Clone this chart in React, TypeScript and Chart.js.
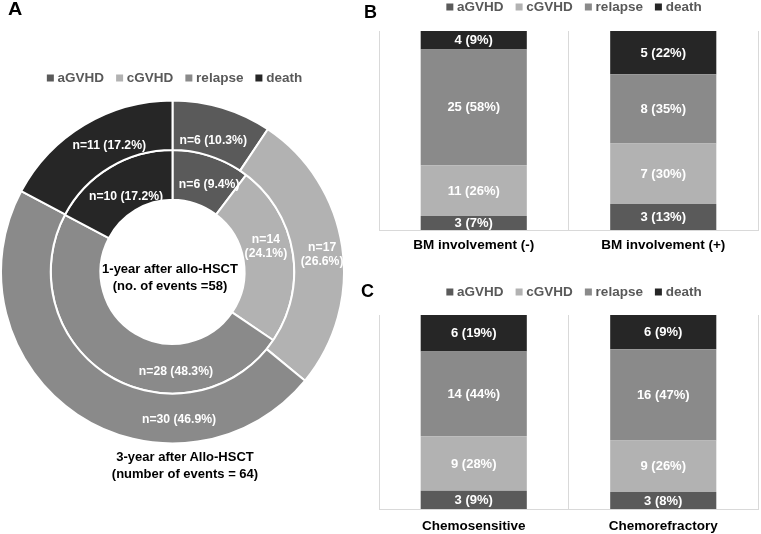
import React, { useEffect, useRef } from 'react';
import { Chart, registerables } from 'chart.js';

Chart.register(...registerables);

// ---------- shared ----------
const eventTypes = ['aGVHD', 'cGVHD', 'relapse', 'death'];
const eventColors = ['#5a5a5a', '#b2b2b2', '#8a8a8a', '#262626'];

// ---------- Panel A (doughnut) ----------
const threeYearCounts = [6, 17, 30, 11];
const threeYearPctLabels = ['10.3%', '26.6%', '46.9%', '17.2%'];
const oneYearCounts = [6, 14, 28, 10];
const oneYearPctLabels = ['9.4%', '24.1%', '48.3%', '17.2%'];

// ---------- Panel B ----------
const bmCategories = ['BM involvement (-)', 'BM involvement (+)'];
const bmAGVHD = [3, 3];
const bmCGVHD = [11, 7];
const bmRelapse = [25, 8];
const bmDeath = [4, 5];
const bmAGVHDPct = [7, 13];
const bmCGVHDPct = [26, 30];
const bmRelapsePct = [58, 35];
const bmDeathPct = [9, 22];

// ---------- Panel C ----------
const chemoCategories = ['Chemosensitive', 'Chemorefractory'];
const chemoAGVHD = [3, 3];
const chemoCGVHD = [9, 9];
const chemoRelapse = [14, 16];
const chemoDeath = [6, 6];
const chemoAGVHDPct = [9, 8];
const chemoCGVHDPct = [28, 26];
const chemoRelapsePct = [44, 47];
const chemoDeathPct = [19, 9];

// label placement inside arcs (fraction along arc, fraction across ring)
const outerLabelPlacement = [
  { t: 0.51, f: 0.32, wrap: false },
  { t: 0.52, f: 0.58, wrap: true },
  { t: 0.285, f: 0.52, wrap: false },
  { t: 0.57, f: 0.39, wrap: false },
];
const innerLabelPlacement = [
  { t: 0.61, f: 0.46, wrap: false },
  { t: 0.43, f: 0.5, wrap: true },
  { t: 0.31, f: 0.55, wrap: false },
  { t: 0.49, f: 0.33, wrap: false },
];

const FONT = "'Liberation Sans', Arial, sans-serif";

function legendLabels() {
  return eventTypes.map((t, i) => ({
    text: t,
    fillStyle: eventColors[i],
    strokeStyle: eventColors[i],
    lineWidth: 0,
    pointStyle: 'rect',
    fontColor: '#595959',
    hidden: false,
    index: i,
    datasetIndex: i,
  }));
}

const legendOptions = {
  display: true,
  position: 'top' as const,
  labels: {
    usePointStyle: true,
    boxWidth: 1,
    boxHeight: 7,
    padding: 15,
    color: '#595959',
    font: { family: FONT, size: 13.5, weight: 'bold' as const },
    generateLabels: () => legendLabels(),
  },
};

function legendShiftPlugin(shift: number) {
  return {
    id: 'legendShift',
    afterLayout(chart: any) {
      if (chart.legend) {
        chart.legend.left += shift;
        chart.legend.right += shift;
      }
    },
  };
}

const ringLabelPlugin = {
  id: 'ringLabels',
  afterDatasetsDraw(chart: any) {
    const ctx = chart.ctx;
    ctx.save();
    ctx.fillStyle = '#ffffff';
    ctx.font = `bold 12.2px ${FONT}`;
    ctx.textAlign = 'center';
    ctx.textBaseline = 'middle';
    chart.data.datasets.forEach((ds: any, di: number) => {
      const meta = chart.getDatasetMeta(di);
      const placement = ds.labelPlacement;
      meta.data.forEach((arc: any, i: number) => {
        const p = arc.getProps(['x', 'y', 'startAngle', 'endAngle', 'innerRadius', 'outerRadius'], true);
        const pl = placement[i];
        const a = p.startAngle + (p.endAngle - p.startAngle) * pl.t;
        const r = p.innerRadius + (p.outerRadius - p.innerRadius) * pl.f;
        const cx = p.x + Math.cos(a) * r;
        const cy = p.y + Math.sin(a) * r;
        const head = `n=${ds.data[i]}`;
        const pct = `(${ds.pctLabels[i]})`;
        if (pl.wrap) {
          ctx.fillText(head, cx, cy - 7);
          ctx.fillText(pct, cx, cy + 7);
        } else {
          ctx.fillText(`${head} ${pct}`, cx, cy);
        }
      });
    });
    ctx.restore();
  },
};

const barLabelPlugin = {
  id: 'barLabels',
  afterDatasetsDraw(chart: any) {
    const ctx = chart.ctx;
    ctx.save();
    ctx.fillStyle = '#ffffff';
    ctx.font = `bold 13px ${FONT}`;
    ctx.textAlign = 'center';
    ctx.textBaseline = 'middle';
    chart.data.datasets.forEach((ds: any, di: number) => {
      const meta = chart.getDatasetMeta(di);
      meta.data.forEach((bar: any, i: number) => {
        const p = bar.getProps(['x', 'y', 'base'], true);
        ctx.fillText(`${ds.counts[i]} (${ds.pctLabels[i]}%)`, p.x, (p.y + p.base) / 2 + 0.5);
      });
    });
    ctx.restore();
  },
};

function DoughnutPanel() {
  const ref = useRef<HTMLCanvasElement>(null);
  useEffect(() => {
    const chart = new Chart(ref.current!, {
      type: 'doughnut',
      data: {
        labels: eventTypes,
        datasets: [
          {
            data: threeYearCounts,
            backgroundColor: eventColors,
            borderColor: '#ffffff',
            borderWidth: 2,
            pctLabels: threeYearPctLabels,
            labelPlacement: outerLabelPlacement,
          } as any,
          {
            data: oneYearCounts,
            backgroundColor: eventColors,
            borderColor: '#ffffff',
            borderWidth: 2,
            pctLabels: oneYearPctLabels,
            labelPlacement: innerLabelPlacement,
          } as any,
        ],
      },
      options: {
        animation: false,
        responsive: false,
        cutout: '42%',
        layout: { padding: { top: 56.25, left: 0, right: 0, bottom: 0 } },
        plugins: {
          legend: legendOptions as any,
          tooltip: { enabled: false },
        },
        events: [],
      },
      plugins: [ringLabelPlugin, legendShiftPlugin(3.5)],
    });
    return () => chart.destroy();
  }, []);
  return (
    <canvas
      ref={ref}
      width={345}
      height={449}
      style={{ position: 'absolute', left: 0, top: 0, width: 345, height: 449 }}
    />
  );
}

function makeBarDatasets(series: number[][], pcts: number[][]) {
  const n = series[0].length;
  const totals = Array.from({ length: n }, (_, j) => series.reduce((s, arr) => s + arr[j], 0));
  return series.map((arr, k) => ({
    label: eventTypes[k],
    data: arr.map((v, j) => (v / totals[j]) * 100),
    counts: arr,
    pctLabels: pcts[k],
    backgroundColor: eventColors[k],
    borderWidth: 0,
    barPercentage: 0.56,
    categoryPercentage: 1,
  }));
}

function BarPanel(props: {
  categories: string[];
  series: number[][];
  pcts: number[][];
  top: number;
  padTop: number;
  height: number;
  spacer: number;
  tickPadding: number;
}) {
  const ref = useRef<HTMLCanvasElement>(null);
  useEffect(() => {
    const chart = new Chart(ref.current!, {
      type: 'bar',
      data: {
        labels: props.categories,
        datasets: makeBarDatasets(props.series, props.pcts) as any,
      },
      options: {
        animation: false,
        responsive: false,
        events: [],
        layout: { padding: { top: props.padTop, left: 9, right: 3, bottom: 0 } },
        plugins: {
          legend: legendOptions as any,
          tooltip: { enabled: false },
        },
        scales: {
          x: {
            stacked: true,
            grid: { offset: true, color: '#d9d9d9', drawTicks: false, lineWidth: 1 },
            border: { display: true, color: '#d9d9d9' },
            ticks: {
              color: '#000000',
              padding: props.tickPadding,
              font: { family: FONT, size: 13.5, weight: 'bold' },
              maxRotation: 0,
            },
            afterFit: (s: any) => {
              s.height = 30;
            },
          },
          xSpacer: {
            type: 'category',
            position: 'top',
            display: true,
            grid: { display: false, drawTicks: false },
            border: { display: false },
            ticks: { display: false },
            afterFit: (s: any) => {
              s.height = props.spacer;
            },
          } as any,
          y: {
            stacked: true,
            display: false,
            min: 0,
            max: 100,
          },
        },
      },
      plugins: [barLabelPlugin, legendShiftPlugin(7)],
    });
    return () => chart.destroy();
  }, []);
  return (
    <canvas
      ref={ref}
      width={391}
      height={props.height}
      style={{ position: 'absolute', left: 370, top: props.top, width: 391, height: props.height }}
    />
  );
}

const letterStyle: React.CSSProperties = {
  position: 'absolute',
  fontFamily: FONT,
  fontWeight: 'bold',
  fontSize: 18,
  lineHeight: '18px',
  color: '#000',
};

const captionStyle: React.CSSProperties = {
  position: 'absolute',
  fontFamily: FONT,
  fontWeight: 'bold',
  fontSize: 13,
  lineHeight: '17px',
  color: '#000',
  textAlign: 'center',
  width: 220,
};

export default function App() {
  return (
    <div
      style={{
        position: 'absolute',
        left: 0,
        top: 0,
        width: 761,
        height: 534,
        overflow: 'hidden',
        background: '#ffffff',
      }}
    >
      <DoughnutPanel />
      <BarPanel
        categories={bmCategories}
        series={[bmAGVHD, bmCGVHD, bmRelapse, bmDeath]}
        pcts={[bmAGVHDPct, bmCGVHDPct, bmRelapsePct, bmDeathPct]}
        top={-15}
        padTop={0.25}
        height={275}
        spacer={7.25}
        tickPadding={7}
      />
      <BarPanel
        categories={chemoCategories}
        series={[chemoAGVHD, chemoCGVHD, chemoRelapse, chemoDeath]}
        pcts={[chemoAGVHDPct, chemoCGVHDPct, chemoRelapsePct, chemoDeathPct]}
        top={270}
        padTop={0.25}
        height={269}
        spacer={6.25}
        tickPadding={9.5}
      />
      <div style={{ ...letterStyle, left: 8, top: 0, transform: 'scaleX(1.1)', transformOrigin: 'left top' }}>A</div>
      <div style={{ ...letterStyle, left: 364, top: 2.5 }}>B</div>
      <div style={{ ...letterStyle, left: 361, top: 281.5 }}>C</div>
      <div style={{ ...captionStyle, left: 60, top: 260 }}>
        1-year after allo-HSCT
        <br />
        (no. of events =58)
      </div>
      <div style={{ ...captionStyle, left: 75, top: 448 }}>
        3-year after Allo-HSCT
        <br />
        (number of events = 64)
      </div>
    </div>
  );
}
